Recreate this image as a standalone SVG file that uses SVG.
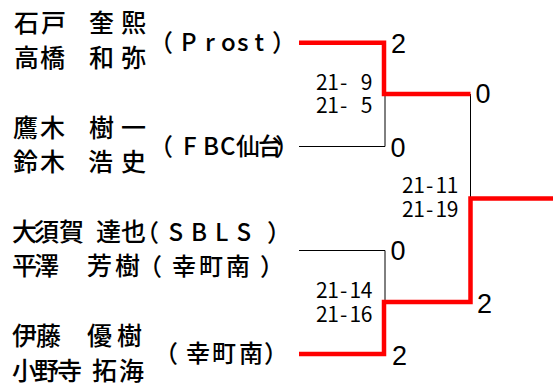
<svg xmlns="http://www.w3.org/2000/svg" width="553" height="385" viewBox="0 0 553 385">
<style>
.nm{font-family:"Noto Sans CJK JP",sans-serif;font-size:25px;font-weight:500;fill:#000}
.tm{font-family:"Noto Sans CJK JP",sans-serif;font-size:24px;font-weight:500;fill:#000}
.sc{font-family:"Liberation Sans",sans-serif;font-size:27px;fill:#000}
.gm{font-family:"Noto Sans CJK JP",sans-serif;font-size:21px;fill:#000}
.win{fill:none;stroke:#ff0000;stroke-width:4.5;stroke-linejoin:miter}
.lose{fill:none;stroke:#000;stroke-width:1}
</style>
<rect width="553" height="385" fill="#fff"/>
<g id="connectors">
<path class="lose" d="M299,146.5 H385 V94"/>
<path class="lose" d="M299,250.5 H385 V302"/>
<path class="lose" d="M470.5,94 V198.5"/>
<path class="win" d="M299,42.8 H384 V94 H470.5"/>
<path class="win" d="M299,354 H384 V302 H470.5 V198.5 H553"/>
</g>
<g id="team1">
<text class="nm" x="14 41 65 89 121" y="32">石戸　奎熙</text>
<text class="nm" x="14 40 65 89 121" y="66.5">高橋　和弥</text>
<text class="tm" x="149 181 205 221 237 254.5 272" y="51">（Prost）</text>
</g>
<g id="team2">
<text class="nm" x="13 40 65 89 121" y="136.5">鷹木　樹一</text>
<text class="nm" x="13 40 65 88 121" y="171">鈴木　浩史</text>
<text class="tm" x="149 183 203 220 236 258 275" y="155">（FBC仙台）</text>
</g>
<g id="team3">
<text class="nm" x="12 34 59 83 96 121" y="241">大須賀 達也</text>
<text class="nm" x="12 34 60 87 115" y="275">平澤　芳樹</text>
<text class="tm" x="135 168.5 191 215 236.5 267" y="241">（SBLS）</text>
<text class="tm" x="138 172 199 226 260" y="274.5">（幸町南）</text>
</g>
<g id="team4">
<text class="nm" x="12 36 62 87 117" y="345">伊藤　優樹</text>
<text class="nm" x="12 34 57 80 92 119" y="379.5">小野寺 拓海</text>
<text class="tm" x="154 186 212 239 264" y="362">（幸町南）</text>
</g>
<g id="match1">
<text class="sc" x="391" y="53">2</text>
<text class="sc" x="390.5" y="157">0</text>
<text class="gm" x="316 327.2 339.9 349.6 360.8" y="90">21- 9</text>
<text class="gm" x="316 327.2 339.9 349.6 360.8" y="113">21- 5</text>
</g>
<g id="match2">
<text class="sc" x="390.5" y="260">0</text>
<text class="sc" x="392" y="365">2</text>
<text class="gm" x="316 327.2 339.9 349.6 360.8" y="298">21-14</text>
<text class="gm" x="316 327.2 339.9 349.6 360.8" y="322">21-16</text>
</g>
<g id="final">
<text class="sc" x="475.5" y="103">0</text>
<text class="sc" x="477" y="313">2</text>
<text class="gm" x="402 413.2 425.9 435.6 446.8" y="193">21-11</text>
<text class="gm" x="402 413.2 425.9 435.6 446.8" y="217">21-19</text>
</g>
</svg>
